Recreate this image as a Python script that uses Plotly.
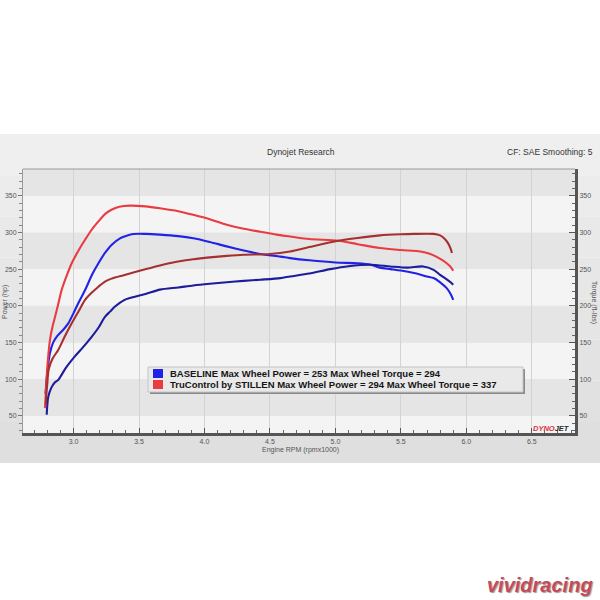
import plotly.graph_objects as go

# ---------------- data ----------------
series_names = ["BASELINE", "TruControl by STILLEN"]
max_wheel_power = [253, 294]
max_wheel_torque = [294, 337]

# BASELINE power (hp)
rpm_base_power = [2.786, 2.80, 2.82, 2.845, 2.872, 2.92, 2.96, 3.00, 3.037, 3.07, 3.10, 3.14, 3.19, 3.24,
                  3.29, 3.355, 3.39, 3.457, 3.55, 3.66, 3.80, 3.915, 4.04, 4.17, 4.30, 4.425, 4.58, 4.654,
                  4.80, 5.00, 5.17, 5.27, 5.34, 5.42, 5.50, 5.60, 5.70, 5.75, 5.80, 5.85, 5.88, 5.90]
hp_base = [80, 110, 135.5, 150, 158, 167, 176, 190, 203.7, 215, 226, 242, 258, 272,
           283, 292, 294.5, 297.8, 298, 297, 295, 292, 287, 281, 275.5, 270.5, 267, 265,
           262, 259, 258, 256, 252, 250, 248, 244.6, 240, 237.8, 232, 224, 216, 208]

# BASELINE torque (ft-lbs)
rpm_base_torque = [2.795, 2.80, 2.807, 2.83, 2.855, 2.884, 2.94, 3.01, 3.07, 3.14, 3.19, 3.24, 3.279, 3.317,
                   3.39, 3.43, 3.55, 3.66, 3.80, 3.915, 4.04, 4.17, 4.30, 4.425, 4.58, 4.654, 4.80, 4.96,
                   5.10, 5.27, 5.42, 5.55, 5.67, 5.75, 5.80, 5.85, 5.88, 5.90]
tq_base = [51.4, 65, 76, 88, 95, 99, 115, 131, 143, 158, 170, 185, 192, 199,
           208, 210.5, 216, 222, 225, 227.7, 230, 232, 234, 235.5, 237.7, 240, 244, 250,
           254, 256, 253.6, 252, 253.6, 249, 242, 236, 232, 228.6]

# TruControl power (hp)
rpm_tc_power = [2.782, 2.788, 2.795, 2.805, 2.82, 2.84, 2.859, 2.88, 2.91, 2.95, 2.986, 3.04, 3.088, 3.14,
                3.19, 3.24, 3.29, 3.35, 3.43, 3.55, 3.66, 3.80, 3.915, 4.04, 4.17, 4.30, 4.425, 4.55,
                4.654, 4.80, 5.02, 5.17, 5.34, 5.50, 5.65, 5.72, 5.77, 5.82, 5.85, 5.88, 5.90]
hp_tc = [60.5, 80, 103.6, 128, 153.6, 172, 185, 200, 222, 242, 258, 276, 290, 304,
         315, 325, 331, 335, 336.5, 335.5, 333, 329, 324, 318, 310.5, 305, 301, 297,
         294.5, 291, 288.6, 284, 278.7, 276, 274, 271, 267, 262, 258, 253, 247.7]

# TruControl torque (ft-lbs)
rpm_tc_torque = [2.788, 2.792, 2.80, 2.81, 2.84, 2.884, 2.93, 2.986, 3.04, 3.088, 3.14, 3.19, 3.24, 3.29,
                 3.39, 3.533, 3.66, 3.788, 3.915, 4.04, 4.17, 4.30, 4.50, 4.654, 4.80, 5.02, 5.17, 5.34,
                 5.50, 5.60, 5.75, 5.80, 5.83, 5.86, 5.88, 5.89]
tq_tc = [65, 78, 95, 113, 128, 140, 157, 176, 193, 208, 218, 226, 233, 237,
         242, 249, 255, 260, 263.5, 266, 268, 269.5, 270.5, 274, 280, 288.6, 292.5, 296,
         297.5, 298, 298, 296, 292, 285.5, 278, 272]

y_ticks = [50, 100, 150, 200, 250, 300, 350]
x_ticks = [3.0, 3.5, 4.0, 4.5, 5.0, 5.5, 6.0, 6.5]
x_range = [2.614, 6.83]
y_range = [26.5, 386.5]

title_text = "Dynojet Research"
cf_text = "CF: SAE Smoothing: 5"
x_title = "Engine RPM (rpmx1000)"
y_title_left = "Power (hp)"
y_title_right = "Torque (ft-lbs)"

# ---------------- style ----------------
C_TC_HP = "#e93b40"
C_TC_TQ = "#a5302f"
C_B_HP = "#2222e6"
C_B_TQ = "#1c1c9c"
FONT = "Liberation Sans"

L, R, T, B = 23, 25, 169, 167
PW, PH = 600 - L - R, 600 - T - B


def px(X):
    return (X - L) / PW


def py(Y):
    return (600 - B - Y) / PH


fig = go.Figure()

line_kw = dict(mode="lines", line_shape="spline", showlegend=False, hoverinfo="skip")
fig.add_trace(go.Scatter(x=rpm_base_torque, y=tq_base, yaxis="y2",
                         line=dict(color=C_B_TQ, width=2.1, smoothing=0.8), **line_kw))
fig.add_trace(go.Scatter(x=rpm_base_power, y=hp_base,
                         line=dict(color=C_B_HP, width=2.1, smoothing=0.8), **line_kw))
fig.add_trace(go.Scatter(x=rpm_tc_torque, y=tq_tc, yaxis="y2",
                         line=dict(color=C_TC_TQ, width=2.1, smoothing=0.8), **line_kw))
fig.add_trace(go.Scatter(x=rpm_tc_power, y=hp_tc,
                         line=dict(color=C_TC_HP, width=2.1, smoothing=0.8), **line_kw))

shapes = []
# outer gray panel (stepped gradient)
panel_top, panel_bot = 134, 463
strip_cols = ["#efefef", "#ececec", "#e9e9e9", "#e7e7e7", "#e5e5e5", "#e3e3e3", "#e1e1e1", "#dfdfdf"]
n = len(strip_cols)
for i, c in enumerate(strip_cols):
    y0 = panel_top + (panel_bot - panel_top) * i / n
    y1 = panel_top + (panel_bot - panel_top) * (i + 1) / n
    shapes.append(dict(type="rect", xref="paper", yref="paper", x0=px(0), x1=px(600),
                       y0=py(y1), y1=py(y0), fillcolor=c, line_width=0, layer="below"))

# plot-area bands
edges = [y_range[0]] + y_ticks + [y_range[1]]
for i in range(len(edges) - 1):
    shapes.append(dict(type="rect", xref="paper", yref="y", x0=0, x1=1, y0=edges[i], y1=edges[i + 1],
                       fillcolor="#f4f4f4" if i % 2 == 0 else "#e5e5e5", line_width=0, layer="below"))

# top frame line
shapes.append(dict(type="line", xref="paper", yref="paper", x0=0, x1=1, y0=1, y1=1,
                   line=dict(color="#9a9a9a", width=1)))

# legend box
lx0, lx1, ly0, ly1 = 148, 523, 367, 392
shapes.append(dict(type="rect", xref="paper", yref="paper", x0=px(lx0 + 2), x1=px(lx1 + 2),
                   y0=py(ly1 + 2), y1=py(ly0 + 2), fillcolor="#8a8a8a", line_width=0, layer="above"))
shapes.append(dict(type="rect", xref="paper", yref="paper", x0=px(lx0), x1=px(lx1),
                   y0=py(ly1), y1=py(ly0), fillcolor="#e9e9e9", line=dict(color="#c4c4c4", width=1),
                   layer="above"))
legend_cols = [C_B_HP, C_TC_HP]
annotations = []
for i, (name, p, t) in enumerate(zip(series_names, max_wheel_power, max_wheel_torque)):
    yc = 373.5 + i * 11
    shapes.append(dict(type="rect", xref="paper", yref="paper", x0=px(153), x1=px(163),
                       y0=py(yc + 4.5), y1=py(yc - 4.5), fillcolor=legend_cols[i], line_width=0,
                       layer="above"))
    annotations.append(dict(xref="paper", yref="paper", x=px(168), y=py(yc), xanchor="left",
                            yanchor="middle", showarrow=False,
                            text=f"<b>{name} Max Wheel Power = {p} Max Wheel Torque = {t}</b>",
                            font=dict(family=FONT, size=9.5, color="#151515")))

# titles and labels
annotations += [
    dict(xref="paper", yref="paper", x=px(301), y=py(152), text=title_text, showarrow=False,
         xanchor="center", yanchor="middle", font=dict(family=FONT, size=8.5, color="#333")),
    dict(xref="paper", yref="paper", x=px(595), y=py(152), text=cf_text, showarrow=False,
         xanchor="right", yanchor="middle", font=dict(family=FONT, size=8.5, color="#333")),
    dict(xref="paper", yref="paper", x=px(300), y=py(449.5), text=x_title, showarrow=False,
         xanchor="center", yanchor="middle", font=dict(family=FONT, size=7, color="#555")),
    dict(xref="paper", yref="paper", x=px(5), y=py(302), text=y_title_left, showarrow=False,
         textangle=-90, xanchor="center", yanchor="middle", font=dict(family=FONT, size=7, color="#555")),
    dict(xref="paper", yref="paper", x=px(594), y=py(302), text=y_title_right, showarrow=False,
         textangle=90, xanchor="center", yanchor="middle", font=dict(family=FONT, size=7, color="#555")),
    dict(xref="paper", yref="paper", x=px(572), y=py(428.5), showarrow=False, xanchor="right",
         yanchor="middle", text="<i><b><span style='color:#d6323c'>DYNO</span>JET</b></i>",
         font=dict(family=FONT, size=7.5, color="#2a2a2a")),
    dict(xref="paper", yref="paper", x=px(595), y=py(585), showarrow=False, xanchor="right",
         yanchor="middle", text="<b><i>vividracing</i></b>",
         font=dict(family=FONT, size=20, color="#c44b5a", shadow="1px 1px 1px #9a9a9a")),
]

tickfont = dict(family=FONT, size=7, color="#555")
fig.update_layout(
    width=600, height=600,
    margin=dict(l=L, r=R, t=T, b=B, autoexpand=False),
    paper_bgcolor="white",
    plot_bgcolor="rgba(0,0,0,0)",
    shapes=shapes,
    annotations=annotations,
    xaxis=dict(range=x_range, tickvals=x_ticks, ticktext=[f"{v:.1f}" for v in x_ticks],
               showline=True, linecolor="#555", linewidth=3, ticks="inside", ticklen=5,
               tickcolor="#555", tickfont=tickfont, showgrid=True, gridcolor="#d3d3d3", gridwidth=1,
               zeroline=False, fixedrange=True, automargin=False,
               minor=dict(dtick=0.1, tick0=3.0, ticks="inside", ticklen=3, tickcolor="#666", showgrid=False)),
    yaxis=dict(range=y_range, tickvals=y_ticks, showline=True, linecolor="#9a9a9a", linewidth=1,
               ticks="outside", ticklen=4, tickcolor="#777", tickfont=tickfont, showgrid=False,
               zeroline=False, fixedrange=True, automargin=False,
               minor=dict(dtick=10, tick0=0, ticks="outside", ticklen=3, tickcolor="#888")),
    yaxis2=dict(range=y_range, tickvals=y_ticks, overlaying="y", side="right", showline=True,
                linecolor="#555", linewidth=3, ticks="inside", ticklen=6, tickcolor="#555",
                tickfont=tickfont, showgrid=False, zeroline=False, fixedrange=True, automargin=False,
                minor=dict(dtick=10, tick0=0, ticks="inside", ticklen=3, tickcolor="#666")),
)

fig.write_html("out.html", config={"displayModeBar": False, "staticPlot": True},
               post_script="document.body.style.margin='0';document.body.style.overflow='hidden';")
